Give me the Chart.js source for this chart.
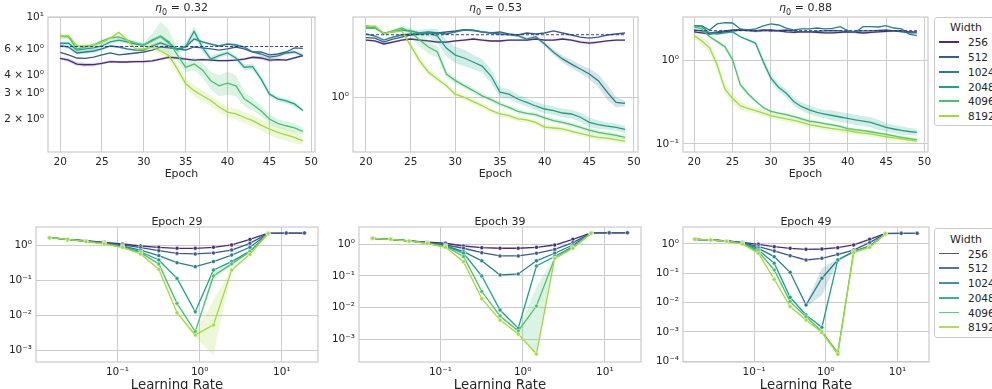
<!DOCTYPE html>
<html>
<head>
<meta charset="utf-8">
<script src="https://cdn.jsdelivr.net/npm/chart.js@4.4.1/dist/chart.umd.min.js"></script>
<style>
  body { margin: 0; width: 992px; height: 389px; overflow: hidden; background: #fff;
         position: relative; font-family: 'DejaVu Sans', sans-serif; color: #262626; }
  canvas { position: absolute; }
  .txt { position: absolute; white-space: nowrap; transform: translate(-50%, -50%); font-size: 11px; }
  .legend { position: absolute; width: 80px; border: 1px solid #cccccc; border-radius: 3px; background: #fff; }
  .legend .ttl { position: absolute; left: 31px; transform: translate(-50%, -50%); font-size: 11px; }
  .legend .sw { position: absolute; left: 4px; width: 20px; height: 1.5px; margin-top: -0.75px; }
  .legend .lb { position: absolute; left: 33px; transform: translateY(-50%); font-size: 10.5px; }
</style>
</head>
<body>
<script>
// ---- shared categories ----
const epochs = [20, 21, 22, 23, 24, 25, 26, 27, 28, 29, 30, 31, 32, 33, 34,
                35, 36, 37, 38, 39, 40, 41, 42, 43, 44, 45, 46, 47, 48, 49];
const widths = ['256', '512', '1024', '2048', '4096', '8192'];
const colors = ['#472d7b', '#365c8d', '#277f8e', '#1fa187', '#4ac16d', '#a0da39'];
const learningRates = [0.0149, 0.0248, 0.0414, 0.0689, 0.115, 0.191, 0.318, 0.53,
                       0.883, 1.47, 2.45, 4.08, 6.79, 11.3, 18.8];

// ---- eta0 = 0.32 ----
const a256  = [5.21, 5.07, 4.76, 4.71, 4.72, 4.82, 4.95, 4.92, 4.92, 4.95, 4.95, 5.00, 5.15, 5.30, 5.24, 5.15, 5.07, 5.11, 5.07, 5.02, 5.03, 5.07, 5.15, 5.30, 5.24, 5.07, 5.11, 5.07, 5.24, 5.44];
const a512  = [5.73, 5.50, 5.24, 5.21, 5.32, 5.50, 5.67, 5.50, 5.58, 5.67, 5.76, 5.94, 6.23, 6.14, 6.04, 5.94, 6.23, 6.14, 6.04, 5.94, 6.04, 6.23, 6.04, 5.76, 5.76, 5.50, 5.58, 5.76, 6.14, 6.09];
const a1024 = [6.36, 6.23, 5.67, 5.76, 5.85, 6.04, 6.33, 6.23, 6.04, 5.94, 5.94, 6.33, 6.64, 6.33, 6.04, 6.23, 7.07, 6.75, 6.53, 6.33, 6.53, 6.43, 6.23, 5.76, 5.58, 5.32, 5.41, 5.67, 5.76, 5.44];
const a2048 = [6.61, 6.61, 5.94, 6.04, 6.14, 6.33, 6.75, 6.95, 6.75, 6.53, 6.43, 6.95, 7.35, 6.64, 5.94, 6.26, 7.96, 6.20, 5.15, 5.44, 5.67, 5.24, 4.53, 4.57, 3.77, 2.97, 2.75, 2.66, 2.54, 2.29];
const a4096 = [7.38, 7.30, 6.04, 6.23, 6.43, 6.85, 7.18, 7.30, 6.95, 6.64, 6.43, 6.85, 7.41, 6.78, 5.50, 4.52, 4.76, 4.34, 3.66, 3.38, 3.52, 3.38, 2.75, 2.52, 2.28, 2.00, 1.87, 1.80, 1.74, 1.65];
const a8192 = [7.38, 7.45, 6.36, 6.33, 6.43, 6.64, 7.18, 7.85, 6.95, 6.04, 6.04, 6.23, 5.85, 5.44, 4.41, 3.50, 3.13, 2.89, 2.68, 2.42, 2.23, 2.17, 2.05, 1.95, 1.82, 1.71, 1.62, 1.56, 1.50, 1.42];
const aBand256  = [1.02, 1.03, 1.03, 1.03, 1.03, 1.02, 1.02, 1.02, 1.02, 1.02, 1.02, 1.02, 1.02, 1.02, 1.02, 1.02, 1.02, 1.02, 1.02, 1.02, 1.02, 1.02, 1.02, 1.02, 1.03, 1.03, 1.02, 1.02, 1.02, 1.02];
const aBand1024 = [1.03, 1.03, 1.03, 1.03, 1.03, 1.02, 1.02, 1.02, 1.02, 1.02, 1.02, 1.03, 1.03, 1.03, 1.02, 1.02, 1.03, 1.02, 1.02, 1.02, 1.02, 1.02, 1.02, 1.02, 1.03, 1.03, 1.03, 1.03, 1.03, 1.03];
const aBand2048 = [1.03, 1.03, 1.03, 1.03, 1.03, 1.03, 1.03, 1.03, 1.03, 1.03, 1.03, 1.03, 1.03, 1.03, 1.04, 1.06, 1.08, 1.08, 1.05, 1.04, 1.04, 1.04, 1.05, 1.05, 1.05, 1.04, 1.04, 1.04, 1.04, 1.03];
const aBand4096 = [1.04, 1.04, 1.04, 1.03, 1.03, 1.03, 1.03, 1.03, 1.03, 1.03, 1.04, 1.12, 1.25, 1.20, 1.10, 1.08, 1.10, 1.12, 1.15, 1.18, 1.20, 1.18, 1.12, 1.10, 1.08, 1.08, 1.07, 1.07, 1.07, 1.06];
const aBand8192 = [1.02, 1.02, 1.02, 1.02, 1.02, 1.02, 1.02, 1.02, 1.02, 1.02, 1.02, 1.04, 1.06, 1.08, 1.08, 1.08, 1.09, 1.09, 1.09, 1.09, 1.09, 1.09, 1.09, 1.09, 1.09, 1.10, 1.10, 1.10, 1.10, 1.07];
const aDashed = 6.28;

// ---- eta0 = 0.53 ----
const b256  = [4.72, 4.60, 4.24, 4.47, 4.72, 4.85, 4.72, 4.60, 4.47, 4.47, 4.60, 4.72, 4.85, 4.72, 4.60, 4.60, 4.72, 4.72, 4.72, 4.85, 4.72, 4.72, 4.85, 4.72, 4.47, 4.35, 4.47, 4.60, 4.72, 4.72];
const b512  = [5.05, 4.98, 4.47, 4.85, 5.12, 5.41, 5.56, 5.63, 5.71, 5.87, 6.03, 6.27, 6.19, 5.87, 5.71, 5.87, 5.56, 5.41, 5.71, 5.56, 5.71, 6.03, 5.71, 5.41, 5.12, 4.98, 5.12, 5.41, 5.56, 5.71];
const b1024 = [5.56, 5.26, 4.72, 5.12, 5.41, 5.56, 5.71, 5.87, 5.71, 5.56, 5.87, 6.19, 6.11, 5.87, 5.71, 5.56, 5.45, 5.30, 4.85, 5.16, 4.24, 3.38, 2.83, 2.46, 2.15, 1.88, 1.57, 1.15, 0.87, 0.85];
const b2048 = [6.54, 6.54, 5.71, 5.87, 6.19, 6.03, 5.71, 5.71, 5.26, 3.80, 3.14, 2.90, 2.60, 2.33, 1.78, 1.15, 1.09, 0.955, 0.87, 0.79, 0.728, 0.697, 0.653, 0.636, 0.582, 0.507, 0.476, 0.459, 0.443, 0.419];
const b4096 = [6.95, 6.65, 5.56, 6.07, 6.54, 5.87, 4.72, 3.90, 3.41, 1.88, 1.57, 1.37, 1.20, 1.04, 0.94, 0.834, 0.76, 0.684, 0.648, 0.624, 0.571, 0.530, 0.507, 0.476, 0.443, 0.412, 0.387, 0.370, 0.357, 0.338];
const b8192 = [6.77, 6.90, 5.66, 5.87, 6.03, 4.05, 2.70, 1.97, 1.64, 1.37, 1.09, 1.00, 0.89, 0.80, 0.70, 0.636, 0.608, 0.556, 0.541, 0.507, 0.445, 0.435, 0.424, 0.397, 0.376, 0.353, 0.338, 0.330, 0.318, 0.303];
const bBand256  = [1.03, 1.03, 1.03, 1.03, 1.03, 1.03, 1.03, 1.03, 1.03, 1.03, 1.03, 1.03, 1.03, 1.03, 1.03, 1.03, 1.03, 1.03, 1.03, 1.03, 1.03, 1.03, 1.03, 1.03, 1.04, 1.04, 1.03, 1.03, 1.03, 1.03];
const bBand1024 = [1.03, 1.03, 1.03, 1.03, 1.03, 1.03, 1.03, 1.03, 1.03, 1.03, 1.03, 1.03, 1.03, 1.03, 1.04, 1.04, 1.04, 1.04, 1.04, 1.04, 1.06, 1.08, 1.10, 1.12, 1.12, 1.15, 1.20, 1.22, 1.15, 1.08];
const bBand2048 = [1.03, 1.03, 1.03, 1.03, 1.04, 1.05, 1.08, 1.12, 1.20, 1.25, 1.25, 1.25, 1.22, 1.20, 1.20, 1.15, 1.13, 1.12, 1.12, 1.12, 1.12, 1.12, 1.12, 1.12, 1.13, 1.14, 1.12, 1.10, 1.10, 1.10];
const bBand4096 = [1.03, 1.03, 1.03, 1.03, 1.05, 1.10, 1.20, 1.20, 1.15, 1.10, 1.08, 1.07, 1.07, 1.07, 1.06, 1.06, 1.06, 1.06, 1.06, 1.06, 1.06, 1.06, 1.06, 1.06, 1.06, 1.06, 1.06, 1.06, 1.06, 1.06];
const bBand8192 = [1.03, 1.03, 1.03, 1.03, 1.04, 1.08, 1.12, 1.10, 1.08, 1.07, 1.07, 1.07, 1.07, 1.07, 1.07, 1.07, 1.07, 1.07, 1.07, 1.07, 1.07, 1.07, 1.07, 1.07, 1.07, 1.07, 1.07, 1.07, 1.07, 1.07];
const bDashed = 5.45;

// ---- eta0 = 0.88 ----
const c256  = [2.18, 2.12, 2.06, 2.12, 2.18, 2.24, 2.30, 2.27, 2.24, 2.27, 2.30, 2.24, 2.18, 2.15, 2.18, 2.18, 2.15, 2.12, 2.12, 2.15, 2.18, 2.15, 2.12, 2.15, 2.18, 2.21, 2.24, 2.24, 2.18, 2.18];
const c512  = [2.30, 2.24, 2.12, 2.18, 2.24, 2.30, 2.33, 2.30, 2.24, 2.30, 2.24, 2.27, 2.30, 2.24, 2.18, 2.18, 2.21, 2.24, 2.27, 2.24, 2.18, 2.21, 2.24, 2.24, 2.27, 2.30, 2.24, 2.18, 2.12, 2.12];
const c1024 = [2.59, 2.57, 2.30, 2.72, 2.81, 2.79, 2.37, 2.30, 2.37, 2.57, 2.72, 2.64, 2.43, 2.30, 2.37, 2.37, 2.43, 2.37, 2.41, 2.52, 2.26, 2.16, 2.52, 2.52, 2.50, 2.59, 2.43, 2.37, 2.06, 1.97];
const c2048 = [2.57, 2.52, 2.12, 2.06, 2.12, 2.18, 1.91, 1.75, 1.60, 0.962, 0.610, 0.476, 0.403, 0.320, 0.279, 0.255, 0.238, 0.228, 0.219, 0.210, 0.202, 0.194, 0.188, 0.181, 0.169, 0.158, 0.151, 0.145, 0.141, 0.138];
const c4096 = [2.50, 2.37, 1.92, 1.67, 1.45, 1.02, 0.514, 0.399, 0.326, 0.273, 0.245, 0.233, 0.224, 0.212, 0.200, 0.188, 0.182, 0.175, 0.169, 0.162, 0.153, 0.148, 0.144, 0.140, 0.135, 0.130, 0.125, 0.120, 0.116, 0.1125];
const c8192 = [1.97, 1.70, 1.42, 0.879, 0.454, 0.350, 0.286, 0.266, 0.250, 0.233, 0.218, 0.208, 0.199, 0.191, 0.181, 0.170, 0.164, 0.158, 0.153, 0.148, 0.144, 0.139, 0.135, 0.132, 0.127, 0.122, 0.118, 0.115, 0.111, 0.108];
const cBand256  = [1.03, 1.03, 1.03, 1.03, 1.03, 1.03, 1.03, 1.03, 1.04, 1.04, 1.03, 1.03, 1.03, 1.03, 1.03, 1.03, 1.03, 1.03, 1.03, 1.03, 1.03, 1.03, 1.03, 1.03, 1.03, 1.03, 1.03, 1.03, 1.03, 1.03];
const cBand2048 = [1.03, 1.03, 1.03, 1.03, 1.03, 1.03, 1.03, 1.03, 1.05, 1.10, 1.12, 1.12, 1.12, 1.12, 1.12, 1.12, 1.12, 1.12, 1.15, 1.15, 1.15, 1.15, 1.15, 1.15, 1.15, 1.12, 1.12, 1.12, 1.10, 1.10];
const cBand4096 = [1.04, 1.04, 1.04, 1.04, 1.08, 1.08, 1.08, 1.05, 1.04, 1.04, 1.04, 1.04, 1.04, 1.04, 1.04, 1.04, 1.04, 1.04, 1.04, 1.04, 1.04, 1.04, 1.04, 1.04, 1.04, 1.04, 1.04, 1.04, 1.04, 1.04];
const cBand8192 = [1.08, 1.12, 1.15, 1.15, 1.15, 1.15, 1.12, 1.10, 1.08, 1.08, 1.08, 1.08, 1.08, 1.08, 1.08, 1.08, 1.08, 1.08, 1.08, 1.08, 1.08, 1.08, 1.08, 1.08, 1.08, 1.08, 1.08, 1.08, 1.08, 1.07];
const cDashed = 2.26;

// ---- loss vs learning rate, epoch 29 ----
const e29w256  = [1.70, 1.52, 1.40, 1.25, 1.12, 0.98, 0.90, 0.84, 0.84, 0.90, 1.05, 1.52, 2.30, 2.31, 2.31];
const e29w512  = [1.70, 1.52, 1.36, 1.22, 1.05, 0.88, 0.72, 0.60, 0.58, 0.62, 0.75, 1.17, 2.27, 2.31, 2.31];
const e29w1024 = [1.70, 1.52, 1.36, 1.17, 0.98, 0.75, 0.52, 0.325, 0.25, 0.35, 0.54, 0.90, 2.22];
const e29w2048 = [1.70, 1.52, 1.34, 1.17, 0.94, 0.67, 0.39, 0.115, 0.0127, 0.20, 0.35, 0.70, 2.22];
const e29w4096 = [1.70, 1.52, 1.34, 1.14, 0.90, 0.63, 0.30, 0.022, 0.0034, 0.135, 0.30, 0.67, 2.22];
const e29w8192 = [1.70, 1.52, 1.31, 1.12, 0.90, 0.58, 0.21, 0.0119, 0.0027, 0.0053, 0.20, 0.565, 2.25];
const e29Band4096Hi = [1.02, 1.02, 1.02, 1.02, 1.02, 1.03, 1.05, 1.10, 1.10, 1.40, 1.10, 1.05, 1.02];
const e29Band4096Lo = [1.02, 1.02, 1.02, 1.02, 1.02, 1.03, 1.05, 1.10, 1.10, 1.30, 1.10, 1.05, 1.02];
const e29Band8192Hi = [1.02, 1.02, 1.02, 1.02, 1.02, 1.03, 1.05, 1.10, 1.15, 5.00, 1.10, 1.05, 1.02];
const e29Band8192Lo = [1.02, 1.02, 1.02, 1.02, 1.02, 1.03, 1.05, 1.10, 1.15, 7.50, 1.10, 1.05, 1.02];

// ---- epoch 39 ----
const e39w256  = [1.55, 1.44, 1.28, 1.16, 1.08, 0.885, 0.78, 0.75, 0.75, 0.80, 0.95, 1.44, 2.30, 2.31, 2.31];
const e39w512  = [1.55, 1.44, 1.28, 1.13, 0.95, 0.75, 0.545, 0.43, 0.43, 0.52, 0.69, 1.13, 2.27, 2.31, 2.31];
const e39w1024 = [1.55, 1.44, 1.28, 1.10, 0.90, 0.585, 0.30, 0.107, 0.115, 0.30, 0.52, 0.95, 2.22];
const e39w2048 = [1.55, 1.44, 1.28, 1.10, 0.88, 0.52, 0.099, 0.0083, 0.0022, 0.205, 0.41, 0.84, 2.22];
const e39w4096 = [1.55, 1.44, 1.28, 1.08, 0.85, 0.41, 0.032, 0.0054, 0.0018, 0.0111, 0.36, 0.80, 2.22];
const e39w8192 = [1.55, 1.44, 1.26, 1.06, 0.80, 0.28, 0.019, 0.0040, 0.00144, 0.000336, 0.36, 0.75, 2.25];
const e39Band4096Hi = [1.02, 1.02, 1.02, 1.02, 1.02, 1.03, 1.05, 1.08, 1.10, 4.00, 1.10, 1.05, 1.02];
const e39Band4096Lo = [1.02, 1.02, 1.02, 1.02, 1.02, 1.03, 1.05, 1.08, 1.10, 33.0, 1.10, 1.05, 1.02];

// ---- epoch 49 ----
const e49w256  = [1.44, 1.37, 1.27, 1.14, 0.975, 0.81, 0.71, 0.66, 0.675, 0.75, 0.925, 1.44, 2.31, 2.31, 2.31];
const e49w512  = [1.44, 1.37, 1.27, 1.11, 0.81, 0.58, 0.40, 0.285, 0.325, 0.445, 0.62, 1.11, 2.25, 2.31, 2.31];
const e49w1024 = [1.44, 1.37, 1.25, 1.08, 0.71, 0.37, 0.108, 0.0083, 0.068, 0.285, 0.55, 0.855, 2.22];
const e49w2048 = [1.44, 1.37, 1.25, 1.05, 0.62, 0.22, 0.0152, 0.0038, 0.00144, 0.285, 0.55, 0.81, 2.22];
const e49w4096 = [1.44, 1.37, 1.25, 1.02, 0.55, 0.13, 0.0108, 0.0033, 0.00103, 0.000197, 0.55, 0.81, 2.22];
const e49w8192 = [1.44, 1.37, 1.22, 1.00, 0.48, 0.0625, 0.0073, 0.00256, 0.00095, 0.000173, 0.51, 0.77, 2.25];
const e49Band1024Hi = [1.02, 1.02, 1.02, 1.02, 1.02, 1.03, 1.05, 1.15, 2.20, 1.10, 1.05, 1.03, 1.02];
const e49Band1024Lo = [1.02, 1.02, 1.02, 1.02, 1.02, 1.03, 1.05, 1.15, 3.80, 1.10, 1.05, 1.03, 1.02];

// ---- ticks ----
const epochTicks = [20, 25, 30, 35, 40, 45, 50];
const lrTicks = [0.1, 1, 10];
const lrTickLabels = ['10\u207B\u00B9', '10\u2070', '10\u00B9'];
const aTicks = [2, 3, 4, 6, 10];
const aTickLabels = ['2 \u00D7 10\u2070', '3 \u00D7 10\u2070', '4 \u00D7 10\u2070', '6 \u00D7 10\u2070', '10\u00B9'];
const bTicks = [1];
const bTickLabels = ['10\u2070'];
const cTicks = [0.1, 1];
const cTickLabels = ['10\u207B\u00B9', '10\u2070'];
const lossTicks3 = [0.001, 0.01, 0.1, 1];
const lossTickLabels3 = ['10\u207B\u00B3', '10\u207B\u00B2', '10\u207B\u00B9', '10\u2070'];
const lossTicks4 = [0.0001, 0.001, 0.01, 0.1, 1];
const lossTickLabels4 = ['10\u207B\u2074', '10\u207B\u00B3', '10\u207B\u00B2', '10\u207B\u00B9', '10\u2070'];

const FONT = "'DejaVu Sans', sans-serif";
const GRID = '#cccccc';

function rgba(hex, a) {
    const n = parseInt(hex.slice(1), 16);
    return 'rgba(' + (n >> 16) + ',' + ((n >> 8) & 255) + ',' + (n & 255) + ',' + a + ')';
}

// spines drawn on top of the data, like matplotlib
const framePlugin = {
    id: 'frame',
    afterDatasetsDraw(chart) {
        const a = chart.chartArea, ctx = chart.ctx;
        ctx.save();
        ctx.strokeStyle = GRID;
        ctx.lineWidth = 1.25;
        ctx.strokeRect(a.left, a.top, a.right - a.left, a.bottom - a.top);
        ctx.restore();
    }
};

function axis(type, min, max, ticks, labels, grid, fitFn) {
    return {
        type: type, min: min, max: max,
        afterBuildTicks: s => { s.ticks = ticks.map(v => ({ value: v })); },
        afterFit: fitFn,
        ticks: {
            autoSkip: false, maxRotation: 0, padding: 4, color: '#262626',
            font: { family: FONT, size: 10.5 },
            callback: (v, i) => labels[i]
        },
        grid: {
            drawTicks: false, lineWidth: 1,
            color: ctx => (ctx.tick && grid.includes(ctx.tick.value)) ? GRID : 'rgba(0,0,0,0)'
        },
        border: { display: false }
    };
}

function panel(p) {
    const PT = 10, PR = 10, XH = 22, YW = 50;
    const c = document.createElement('canvas');
    c.width = YW + (p.r - p.l) + PR;
    c.height = PT + (p.b - p.t) + XH;
    c.style.left = (p.l - YW) + 'px';
    c.style.top = (p.t - PT) + 'px';
    document.body.appendChild(c);

    new Chart(c, {
        type: 'line',
        data: { datasets: p.datasets },
        options: {
            responsive: false, animation: false, events: [],
            layout: { padding: { top: PT, right: PR, left: 0, bottom: 0 } },
            plugins: { legend: { display: false }, tooltip: { enabled: false } },
            scales: {
                x: axis(p.xType, p.xMin, p.xMax, p.xTicks, p.xLabels, p.xTicks,
                        s => { s.height = XH; s.paddingLeft = 0; s.paddingRight = 0; }),
                y: axis('logarithmic', p.yMin, p.yMax, p.yTicks, p.yLabels, p.yGrid,
                        s => { s.width = YW; s.paddingTop = 0; s.paddingBottom = 0; })
            }
        },
        plugins: [framePlugin]
    });
}

// epoch panels: line + shaded band per width, 8192 first so it is drawn on top
function epochSets(series, bands, dashed) {
    const sets = [{
        data: [{ x: epochs[0], y: dashed }, { x: epochs[epochs.length - 1], y: dashed }],
        borderColor: 'rgba(45,40,115,0.9)', borderWidth: 1, borderDash: [3, 2],
        pointRadius: 0, fill: false
    }];
    for (let s = series.length - 1; s >= 0; s--) {
        const vals = series[s], band = bands[s];
        sets.push({
            data: epochs.map((e, i) => ({ x: e, y: vals[i] })),
            borderColor: colors[s], borderWidth: 1.3, pointRadius: 0, fill: false
        });
        if (band) {
            sets.push({
                data: epochs.map((e, i) => ({ x: e, y: vals[i] * band[i] })),
                borderWidth: 0, pointRadius: 0, backgroundColor: rgba(colors[s], 0.2), fill: '+1'
            });
            sets.push({
                data: epochs.map((e, i) => ({ x: e, y: vals[i] / band[i] })),
                borderWidth: 0, pointRadius: 0, fill: false
            });
        }
    }
    return sets;
}

function lrSets(series, bands) {
    const sets = [];
    for (let s = series.length - 1; s >= 0; s--) {
        const vals = series[s], band = bands[s];
        sets.push({
            data: vals.map((v, i) => ({ x: learningRates[i], y: v })),
            borderColor: colors[s], borderWidth: 1.3, fill: false,
            pointRadius: 2, pointBackgroundColor: colors[s],
            pointBorderColor: '#ffffff', pointBorderWidth: 0.5
        });
        if (band) {
            sets.push({
                data: vals.map((v, i) => ({ x: learningRates[i], y: v * band.hi[i] })),
                borderWidth: 0, pointRadius: 0, backgroundColor: rgba(colors[s], 0.2), fill: '+1'
            });
            sets.push({
                data: vals.map((v, i) => ({ x: learningRates[i], y: v / band.lo[i] })),
                borderWidth: 0, pointRadius: 0, fill: false
            });
        }
    }
    return sets;
}

const topRow = { t: 17, b: 152, xType: 'linear', xMin: 18.55, xMax: 50.45,
                 xTicks: epochTicks, xLabels: epochTicks.map(String) };
const botRow = { t: 227, b: 362, xType: 'logarithmic', xMin: 0.0102, xMax: 27.5,
                 xTicks: lrTicks, xLabels: lrTickLabels };

panel(Object.assign({}, topRow, {
    l: 48, r: 315, yMin: 1.19, yMax: 10.0, yTicks: aTicks, yLabels: aTickLabels, yGrid: [10],
    datasets: epochSets([a256, a512, a1024, a2048, a4096, a8192],
                        [aBand256, null, aBand1024, aBand2048, aBand4096, aBand8192], aDashed)
}));
panel(Object.assign({}, topRow, {
    l: 353, r: 638, yMin: 0.227, yMax: 8.81, yTicks: bTicks, yLabels: bTickLabels, yGrid: [1],
    datasets: epochSets([b256, b512, b1024, b2048, b4096, b8192],
                        [bBand256, null, bBand1024, bBand2048, bBand4096, bBand8192], bDashed)
}));
panel(Object.assign({}, topRow, {
    l: 683, r: 928, yMin: 0.0802, yMax: 3.29, yTicks: cTicks, yLabels: cTickLabels, yGrid: [0.1, 1],
    datasets: epochSets([c256, c512, c1024, c2048, c4096, c8192],
                        [cBand256, null, null, cBand2048, cBand4096, cBand8192], cDashed)
}));

panel(Object.assign({}, botRow, {
    l: 36, r: 318, yMin: 0.000455, yMax: 3.45, yTicks: lossTicks3, yLabels: lossTickLabels3, yGrid: lossTicks3,
    datasets: lrSets([e29w256, e29w512, e29w1024, e29w2048, e29w4096, e29w8192],
                     [null, null, null, null, { hi: e29Band4096Hi, lo: e29Band4096Lo },
                      { hi: e29Band8192Hi, lo: e29Band8192Lo }])
}));
panel(Object.assign({}, botRow, {
    l: 359, r: 641, yMin: 0.000188, yMax: 3.53, yTicks: lossTicks3, yLabels: lossTickLabels3, yGrid: lossTicks3,
    datasets: lrSets([e39w256, e39w512, e39w1024, e39w2048, e39w4096, e39w8192],
                     [null, null, null, null, { hi: e39Band4096Hi, lo: e39Band4096Lo }, null])
}));
panel(Object.assign({}, botRow, {
    l: 683, r: 929, yMin: 0.000094, yMax: 3.80, yTicks: lossTicks4, yLabels: lossTickLabels4, yGrid: lossTicks4,
    datasets: lrSets([e49w256, e49w512, e49w1024, e49w2048, e49w4096, e49w8192],
                     [null, null, { hi: e49Band1024Hi, lo: e49Band1024Lo }, null, null, null])
}));

// titles and axis labels
function text(html, x, y, size) {
    const d = document.createElement('div');
    d.className = 'txt';
    d.innerHTML = html;
    d.style.left = x + 'px';
    d.style.top = y + 'px';
    if (size) d.style.fontSize = size + 'px';
    document.body.appendChild(d);
}
const eta = v => '<i>\u03B7</i><sub style="font-size:8px">0</sub> = ' + v;
text(eta('0.32'), 181.5, 9);
text(eta('0.53'), 495.5, 9);
text(eta('0.88'), 805.5, 9);
text('Epoch', 181.5, 173);
text('Epoch', 495.5, 173);
text('Epoch', 805.5, 173);
text('Epoch 29', 177, 221);
text('Epoch 39', 500, 221);
text('Epoch 49', 806, 221);
text('Learning Rate', 177, 383.5, 13.3);
text('Learning Rate', 500, 383.5, 13.3);
text('Learning Rate', 806, 383.5, 13.3);

// legends
function legend(top, height, rows, titleY, alpha) {
    const box = document.createElement('div');
    box.className = 'legend';
    box.style.left = '934px';
    box.style.top = top + 'px';
    box.style.height = height + 'px';
    let html = '<div class="ttl" style="top:' + titleY + 'px">Width</div>';
    widths.forEach((w, i) => {
        html += '<div class="sw" style="top:' + rows[i] + 'px;background-color:' + rgba(colors[i], alpha) + '"></div>';
        html += '<div class="lb" style="top:' + rows[i] + 'px">' + w + '</div>';
    });
    box.innerHTML = html;
    document.body.appendChild(box);
}
legend(16.5, 107.5, [24.5, 39.5, 54.5, 69.5, 83.5, 98.5], 9.5, 1);
legend(227.5, 108, [25, 39.6, 54.6, 69.3, 84, 98.6], 10, 0.85);
</script>
</body>
</html>
